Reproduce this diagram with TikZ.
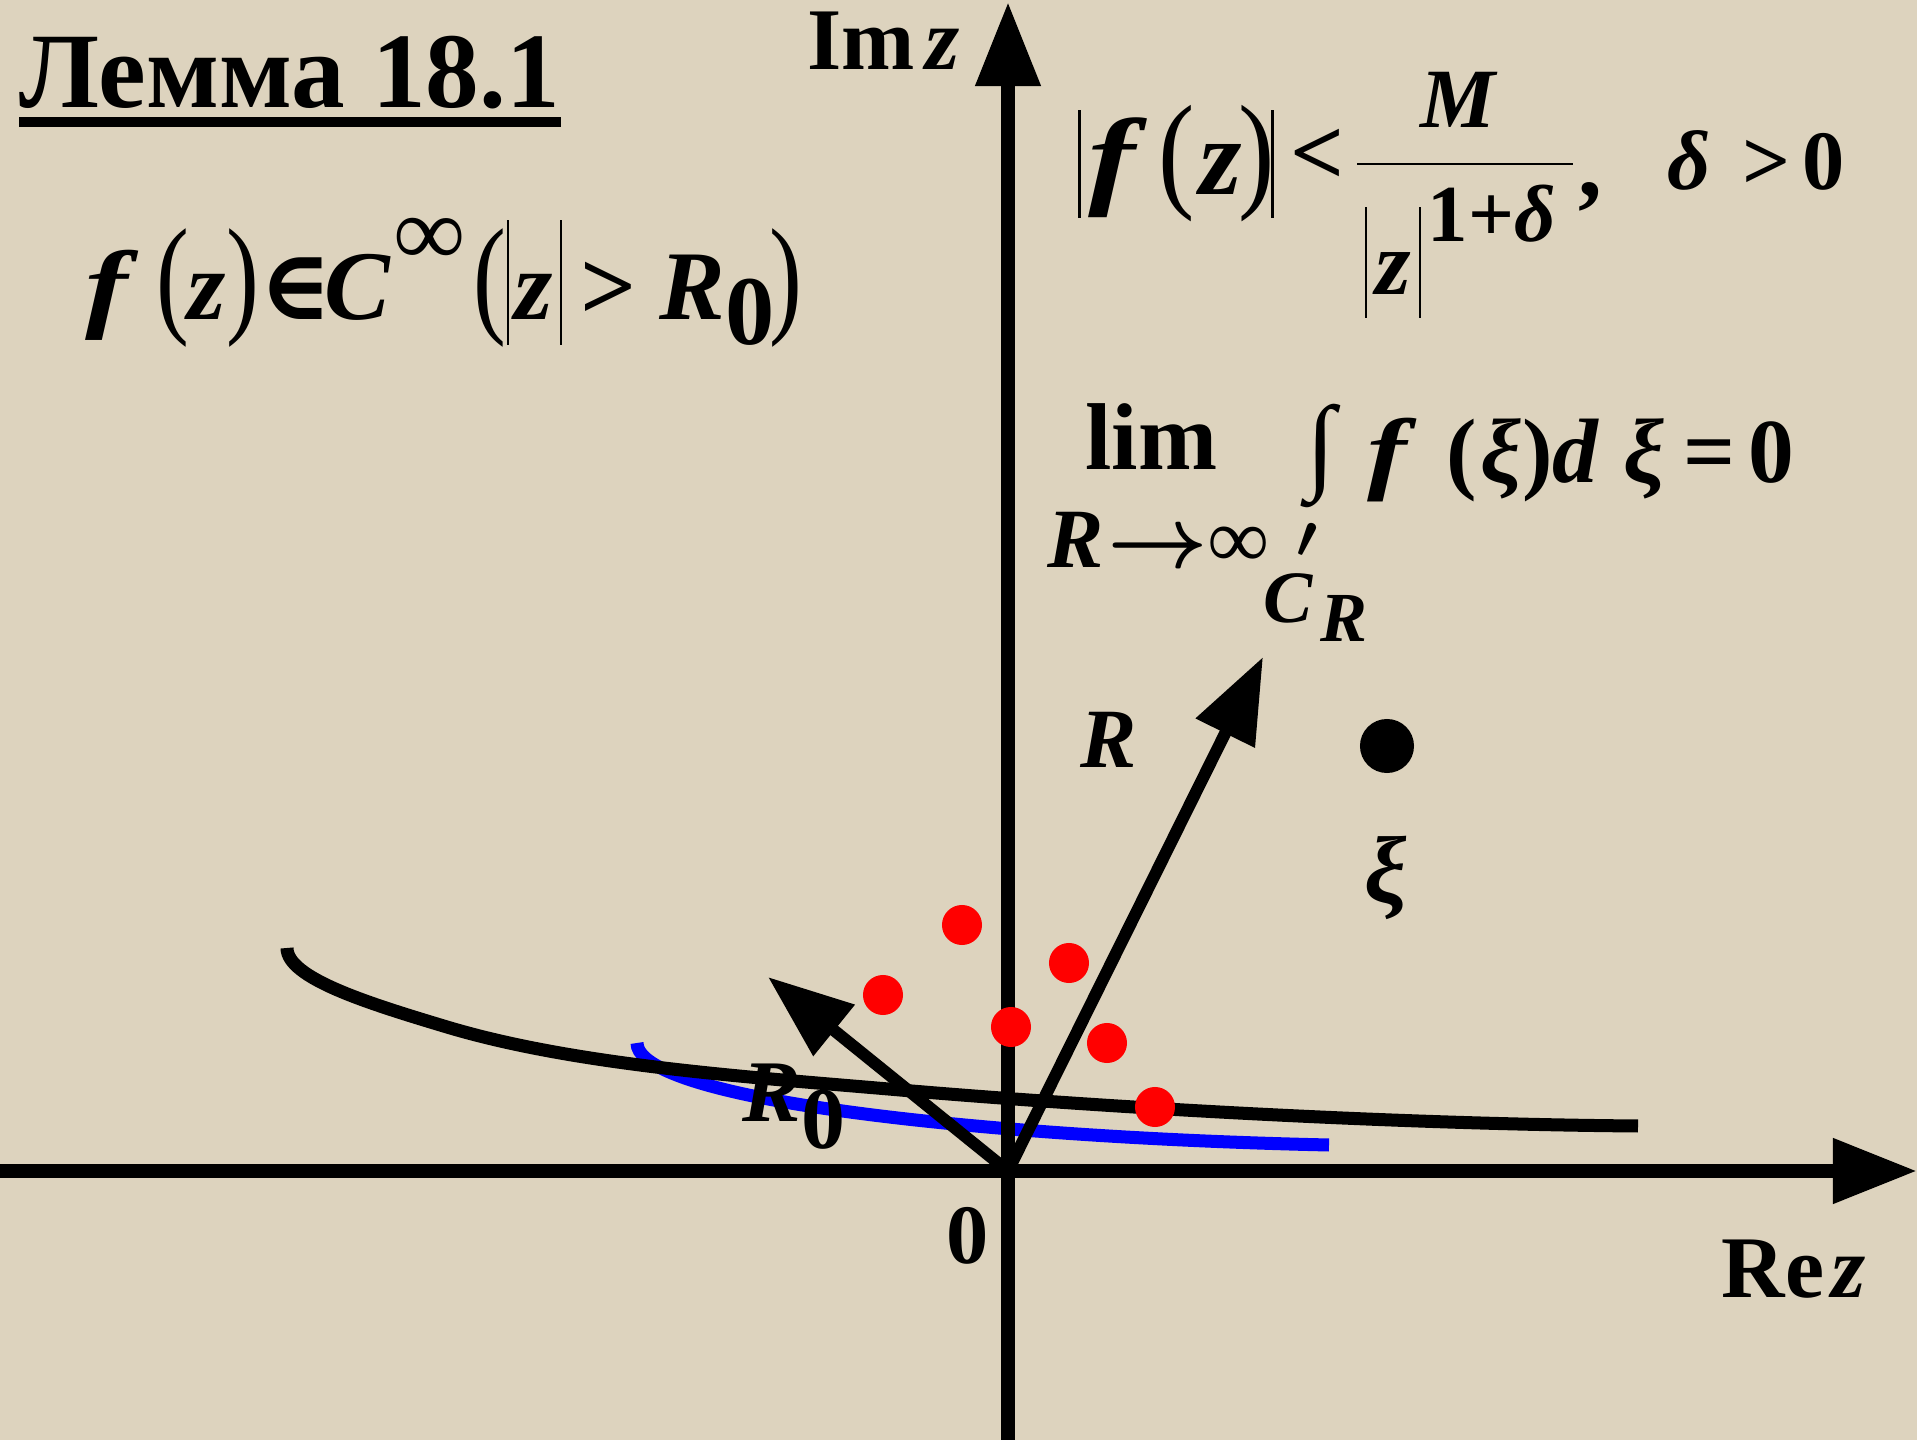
\documentclass[tikz,border=0pt]{standalone}
\usepackage{graphicx}
\usepackage{fontspec}
\setmainfont{Liberation Serif}
\newfontfamily\dvs{DejaVu Serif}
\usetikzlibrary{arrows.meta}
\definecolor{paper}{RGB}{221,211,190}
\definecolor{dotred}{RGB}{255,0,0}
\definecolor{arcblue}{RGB}{0,0,255}
\newcommand{\vb}[1]{\textbf{\textit{#1}}}
\newcommand{\wf}{\scalebox{1.3}[1]{\vb{f}}}
\newcommand{\tall}[2][1.33]{\scalebox{1}[#1]{#2}}
\newcommand{\abar}[2]{\rule[-#1]{0.7pt}{#2}}
\newcommand{\gl}[2]{\makebox[#1pt]{#2}}

\begin{document}
\begin{tikzpicture}[x=0.01cm,y=-0.01cm,
   axis/.style={line width=0.14cm, -{Triangle[length=0.84cm,width=0.62cm]}},
   vec/.style={line width=0.12cm, -{Triangle[length=0.85cm,width=0.63cm]}},
   curve/.style={line width=0.13cm},
   txt/.style={inner sep=0pt, anchor=base west},
   rdot/.style={circle, fill=dotred, minimum size=0.4cm, inner sep=0pt},
   bdot/.style={circle, fill=black, minimum size=0.54cm, inner sep=0pt}]
  \useasboundingbox (0,0) rectangle (1917,1440);
  \fill[paper] (0,0) rectangle (1917,1440);
  % axes
  \coordinate (O) at (1008,1171);
  \coordinate (xl) at (0,1171);   \coordinate (xr) at (1917,1171);
  \coordinate (yb) at (1008,1440); \coordinate (yt) at (1008,2);
  % contours
  \draw[curve, arcblue] (637,1043) .. controls (637,1065) and (690,1083) .. (753,1096)
     .. controls (880,1122) and (1100,1140) .. (1329,1145);
  \draw[curve] (287,948) .. controls (287,978) and (367,1003) .. (447,1027)
     .. controls (577,1066) and (750,1077) .. (900,1090)
     .. controls (1100,1107) and (1388,1124) .. (1638,1126);
  \draw[axis] (xl) -- (xr);
  \draw[axis] (yb) -- (yt);
  % radii
  \coordinate (rtip) at (1263,657);
  \coordinate (r0tip) at (768,977);
  \draw[vec] (O) -- (rtip);
  \draw[vec] (O) -- (r0tip);
  % singular points
  \node[rdot] (p1) at (962,925) {};  \node[rdot] (p2) at (883,995) {};
  \node[rdot] (p3) at (1069,963) {}; \node[rdot] (p4) at (1011,1027) {};
  \node[rdot] (p5) at (1107,1043) {}; \node[rdot] (p6) at (1155,1107) {};
  \node[bdot] (xi) at (1387,746) {};
  % labels
  \node[txt, font=\fontsize{30.5}{31}\selectfont\bfseries] (title) at (19,108) {Лемма 18.1};
  \draw[line width=0.1cm] ([yshift=-4pt]title.base west) -- ([yshift=-4pt]title.base east);
  \node[txt, font=\fontsize{25}{25}\selectfont] (imz) at (807,70) {\textbf{Im}\kern3pt\vb{z}};
  \node[txt, font=\fontsize{25}{25}\selectfont] (rez) at (1721,1298) {\textbf{Re}\kern2pt\vb{z}};
  \node[inner sep=0pt, font=\fontsize{24}{24}\selectfont\bfseries] (zero) at (968,1236) {0};
  \node[txt, font=\fontsize{24}{24}\selectfont] (rlbl) at (1080,768) {\vb{R}};
  \node[inner sep=0pt, font=\fontsize{27}{27}\selectfont] (xilbl) at (1386,878) {\vb{ξ}};
  \node[txt, font=\fontsize{25}{25}\selectfont] (r0lbl) at (742,1122) {\vb{R}\raisebox{-7.4pt}{\textbf{0}}};
  % f in C^infty
  \node[txt, font=\fontsize{28}{28}\selectfont] (dom) at (70,320)
    {\gl{23.6}{\wf}\gl{10.8}{\tall{(}}\gl{8.8}{\vb{z}}\gl{11.4}{\tall{)}}\gl{18.8}{\dvs\bfseries ∈}%
     \gl{16.5}{\vb{C}}\gl{24.5}{\raisebox{0.55em}{\textbf{∞}}}\gl{9.4}{\tall{(}}\gl{1.1}{\abar{7pt}{35.5pt}}%
     \gl{13.4}{\vb{z}}\gl{2.3}{\abar{7pt}{35.5pt}}\gl{24.5}{\textbf{>}}\gl{23.6}{\vb{R}}%
     \gl{9.1}{\raisebox{-0.25em}{\textbf{0}}}\gl{11.1}{\tall{)}}};
  % bound
  \node[txt, font=\fontsize{31}{31}\selectfont] (lhs) at (1077,195)
    {\gl{1.1}{\abar{6.5pt}{30.7pt}}\gl{20.5}{\wf}\gl{13.1}{\tall[1.18]{(}}\gl{12.2}{\vb{z}}%
     \gl{8}{\tall[1.18]{)}}\gl{1.1}{\abar{6.5pt}{30.7pt}}};
  \node[inner sep=0pt, font=\fontsize{27}{27}\selectfont\bfseries] (lt) at (1318,157) {<};
  \node[inner sep=0pt, anchor=base, font=\fontsize{24}{24}\selectfont] (num) at (1459,128) {\vb{M}};
  \draw[line width=0.7pt] (1357,164) -- (1573,164);
  \node[txt, font=\fontsize{26}{26}\selectfont] (den) at (1364,295)
    {\abar{6.5pt}{31.5pt}\kern2.3pt\vb{z}\kern2.3pt\abar{6.5pt}{31.5pt}};
  \node[txt, font=\fontsize{23}{23}\selectfont] (pow) at (1427,242) {\textbf{1+}\vb{δ}};
  \node[txt, font=\fontsize{27}{27}\selectfont] (comma) at (1578,197) {\textbf{,}};
  \node[txt, font=\fontsize{24}{24}\selectfont] (cond) at (1667,190) {\vb{δ}\kern9pt\textbf{>}\kern3.4pt\textbf{0}};
  % limit of the integral
  \node[txt, font=\fontsize{24}{24}\selectfont] (lim) at (1047,568)
    {\rlap{\makebox[58.9pt]{\raisebox{28pt}{\fontsize{27}{27}\selectfont\bfseries lim}}}%
     \vb{R}\kern1pt{\boldmath$\rightarrow$}\textbf{∞}};
  \node[inner sep=0pt, font=\fontsize{30}{30}\selectfont] (intg) at (1321,456) {∫};
  \node[txt, font=\fontsize{26}{26}\selectfont] (intd) at (1368,483)
    {\gl{13.4}{\wf}\kern9.1pt\gl{7.7}{\textbf{(}}\gl{14.8}{\vb{ξ}}\gl{6.0}{\textbf{)}}\gl{15.6}{\vb{d}}%
     \kern6.8pt\gl{10.0}{\vb{ξ}}\kern5.7pt\gl{15.9}{\textbf{=}}\kern4pt\gl{10.8}{\textbf{0}}};
  \node[txt, font=\fontsize{21}{21}\selectfont] (cr) at (1263,623)
    {\vb{C}\makebox[0pt][r]{\raisebox{18.5pt}{\fontsize{16}{16}\selectfont\boldmath$\prime$}\kern-1pt}%
     \kern2pt\raisebox{-5.4pt}{\fontsize{20}{20}\selectfont\vb{R}}};
\end{tikzpicture}
\end{document}
